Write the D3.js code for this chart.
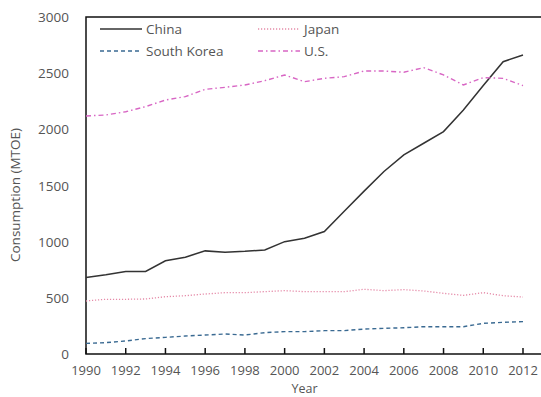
<!DOCTYPE html>
<html lang="en">
	<head>
		<meta charset="utf-8">
		<title>Energy consumption</title>
		<script type="text/javascript" src="https://cdn.jsdelivr.net/npm/d3@7"></script>
		<style>
			body { margin: 0; background: white; }
			text {
				font-family: "Open Sans", sans-serif;
				font-size: 13.5px;
				fill: #555;
			}
			text.xl { font-size: 13px; }
			text.xtitle { font-size: 12.5px; }
		</style>
	</head>
	<body>
		<script type="text/javascript">
			var years = d3.range(1990, 2013);
			var china = [680, 705, 735, 735, 830, 862, 918, 906, 914, 926, 1000, 1030, 1090,
			             1270, 1450, 1625, 1772, 1876, 1980, 2172, 2390, 2602, 2662];
			var japan = [472, 487, 487, 490, 510, 519, 534, 546, 546, 555, 564, 555, 555,
			             555, 576, 564, 573, 561, 540, 522, 546, 519, 507];
			var korea = [95, 101, 116, 137, 148, 160, 169, 178, 169, 190, 199, 199, 208,
			             208, 222, 228, 234, 243, 243, 243, 273, 282, 288];
			var us = [2119, 2128, 2157, 2202, 2261, 2291, 2356, 2374, 2395, 2433, 2484, 2424, 2454,
			          2469, 2519, 2519, 2508, 2549, 2484, 2395, 2460, 2454, 2389];
			var xTicks = d3.range(1990, 2013, 2);
			var yTicks = [0, 500, 1000, 1500, 2000, 2500, 3000];

			var series = [
				{name: "China", values: china, color: "#333", dash: null, width: 1.5},
				{name: "Japan", values: japan, color: "#e58aa8", dash: "1.2,1.8", width: 1.3},
				{name: "South Korea", values: korea, color: "#3a6a92", dash: "4,3", width: 1.4},
				{name: "U.S.", values: us, color: "#d866c4", dash: "5,3,1.5,3", width: 1.4}
			];

			var w = 541;
			var h = 397;
			var padL = 86, padT = 17, padB = 354, padR = 541;

			var xScale = d3.scaleLinear()
						   .domain([1990, 2012])
						   .range([padL, 523]);
			var yScale = d3.scaleLinear()
						   .domain([0, 3000])
						   .range([padB, padT]);

			var svg = d3.select("body")
						.append("svg")
						.attr("width", w)
						.attr("height", h);

			// frame: top, left, bottom
			svg.append("path")
			   .attr("d", "M" + padR + "," + padT + "H" + padL + "V" + padB + "H" + padR)
			   .attr("fill", "none")
			   .attr("stroke", "#111")
			   .attr("stroke-width", 1.5);

			// bottom ticks point inward
			svg.selectAll("line.xt")
			   .data(xTicks)
			   .enter()
			   .append("line")
			   .attr("class", "xt")
			   .attr("x1", function(d){ return xScale(d); })
			   .attr("x2", function(d){ return xScale(d); })
			   .attr("y1", padB)
			   .attr("y2", padB - 6)
			   .attr("stroke", "#111")
			   .attr("stroke-width", 1.5);

			svg.selectAll("text.xl")
			   .data(xTicks)
			   .enter()
			   .append("text")
			   .attr("class", "xl")
			   .attr("x", function(d){ return xScale(d); })
			   .attr("y", 375)
			   .attr("text-anchor", "middle")
			   .text(function(d){ return d; });

			svg.selectAll("text.yl")
			   .data(yTicks)
			   .enter()
			   .append("text")
			   .attr("class", "yl")
			   .attr("x", 69)
			   .attr("y", function(d){ return yScale(d) + 5; })
			   .attr("text-anchor", "end")
			   .text(function(d){ return d; });

			svg.append("text")
			   .attr("class", "xtitle")
			   .attr("x", xScale(2001))
			   .attr("y", 392.5)
			   .attr("text-anchor", "middle")
			   .text("Year");

			svg.append("text")
			   .attr("transform", "translate(20,195) rotate(-90)")
			   .attr("text-anchor", "middle")
			   .text("Consumption (MTOE)");

			var line = d3.line()
						 .x(function(d, i){ return xScale(years[i]); })
						 .y(function(d){ return yScale(d); });

			svg.selectAll("path.series")
			   .data(series)
			   .enter()
			   .append("path")
			   .attr("class", "series")
			   .attr("d", function(d){ return line(d.values); })
			   .attr("fill", "none")
			   .attr("stroke", function(d){ return d.color; })
			   .attr("stroke-width", function(d){ return d.width; })
			   .attr("stroke-dasharray", function(d){ return d.dash; });

			// legend, two columns
			var legendPos = [[100, 29], [258, 29], [100, 51], [258, 51]];
			var lg = svg.selectAll("g.legend")
						.data(series)
						.enter()
						.append("g")
						.attr("class", "legend")
						.attr("transform", function(d, i){
							return "translate(" + legendPos[i][0] + "," + legendPos[i][1] + ")";
						});
			lg.append("line")
			  .attr("x1", 0)
			  .attr("x2", 42)
			  .attr("stroke", function(d){ return d.color; })
			  .attr("stroke-width", function(d){ return d.width; })
			  .attr("stroke-dasharray", function(d){ return d.dash; });
			lg.append("text")
			  .attr("x", 46)
			  .attr("y", 5)
			  .text(function(d){ return d.name; });
		</script>
	</body>
</html>
